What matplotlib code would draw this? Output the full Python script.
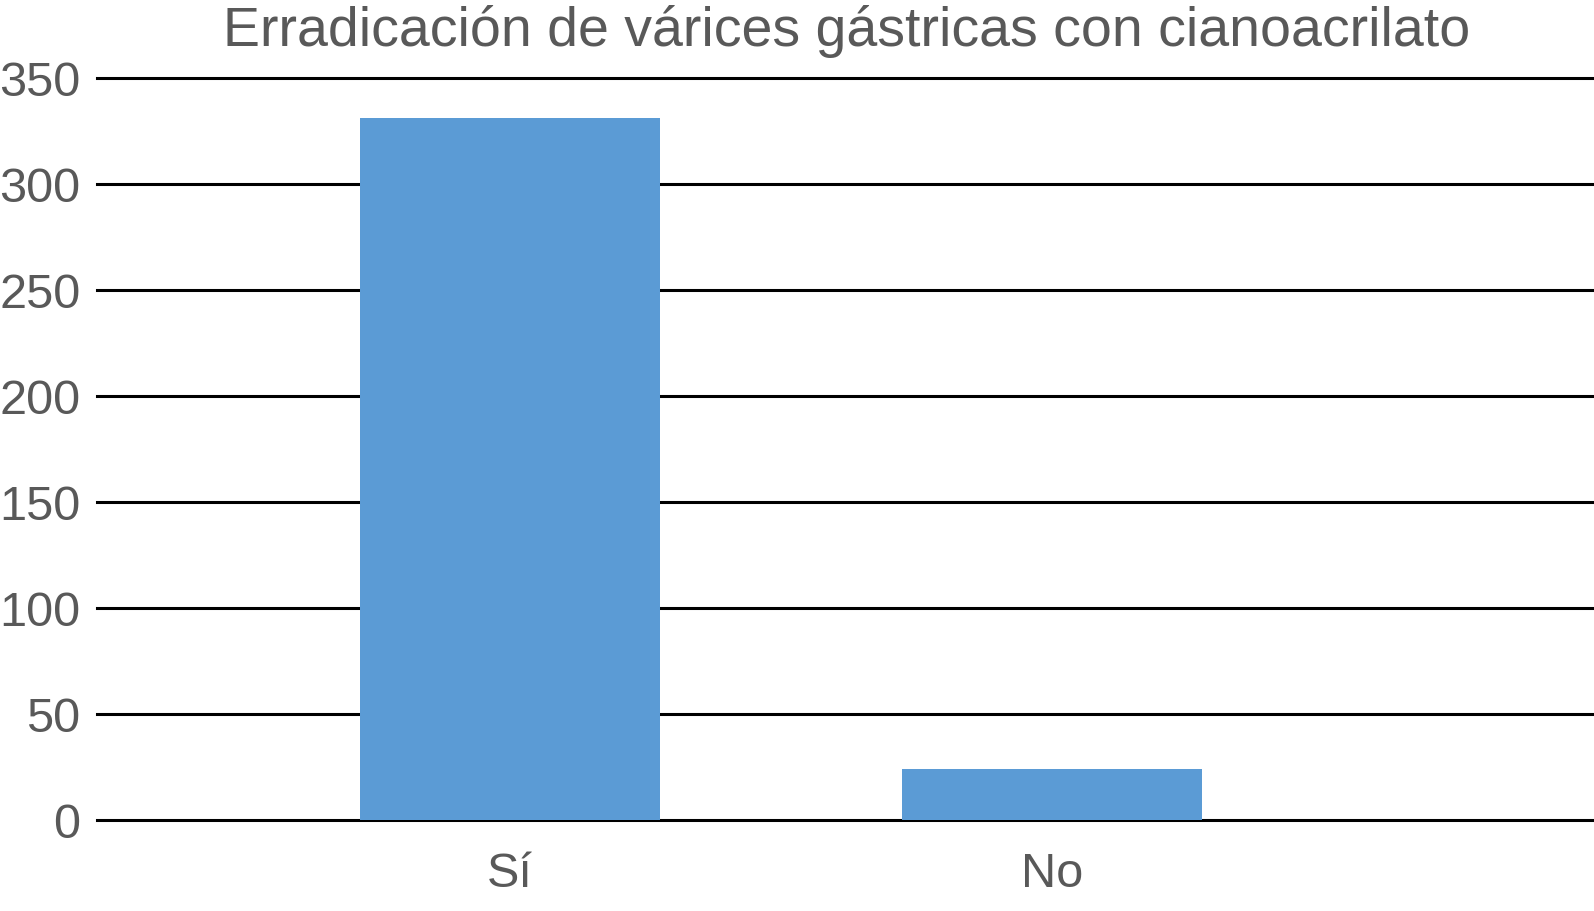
import matplotlib.pyplot as plt

plt.rcParams['font.family'] = ['Liberation Sans', 'DejaVu Sans']

# data
categories = ['Sí', 'No']
values = [331, 24]
yticks = [0, 50, 100, 150, 200, 250, 300, 350]

text_color = '#595959'
bar_color = '#5B9BD5'

fig = plt.figure(figsize=(15.94, 9.11), dpi=100)
ax = fig.add_axes([97 / 1594, 91 / 911, 1 - 97 / 1594, (820 - 78) / 911])

x = list(range(len(categories)))
ax.bar(x, values, width=0.555, color=bar_color, zorder=2)

ax.set_ylim(0, 350)
ax.set_xlim(-0.762, 2.0)
ax.set_yticks(yticks)
ax.set_xticks(x)
ax.set_xticklabels(categories)
for y in yticks:
    ax.axhline(y, color='black', lw=2.2, zorder=1, clip_on=False)

for s in ax.spines.values():
    s.set_visible(False)
ax.tick_params(axis='both', length=0, labelsize=35, colors=text_color)
ax.tick_params(axis='y', pad=12)
ax.tick_params(axis='x', pad=23)

fig.text(0.531, 0.965, 'Erradicación de várices gástricas con cianoacrilato',
         ha='center', va='center', fontsize=40, color=text_color)

fig.savefig('out.png', dpi=100)
